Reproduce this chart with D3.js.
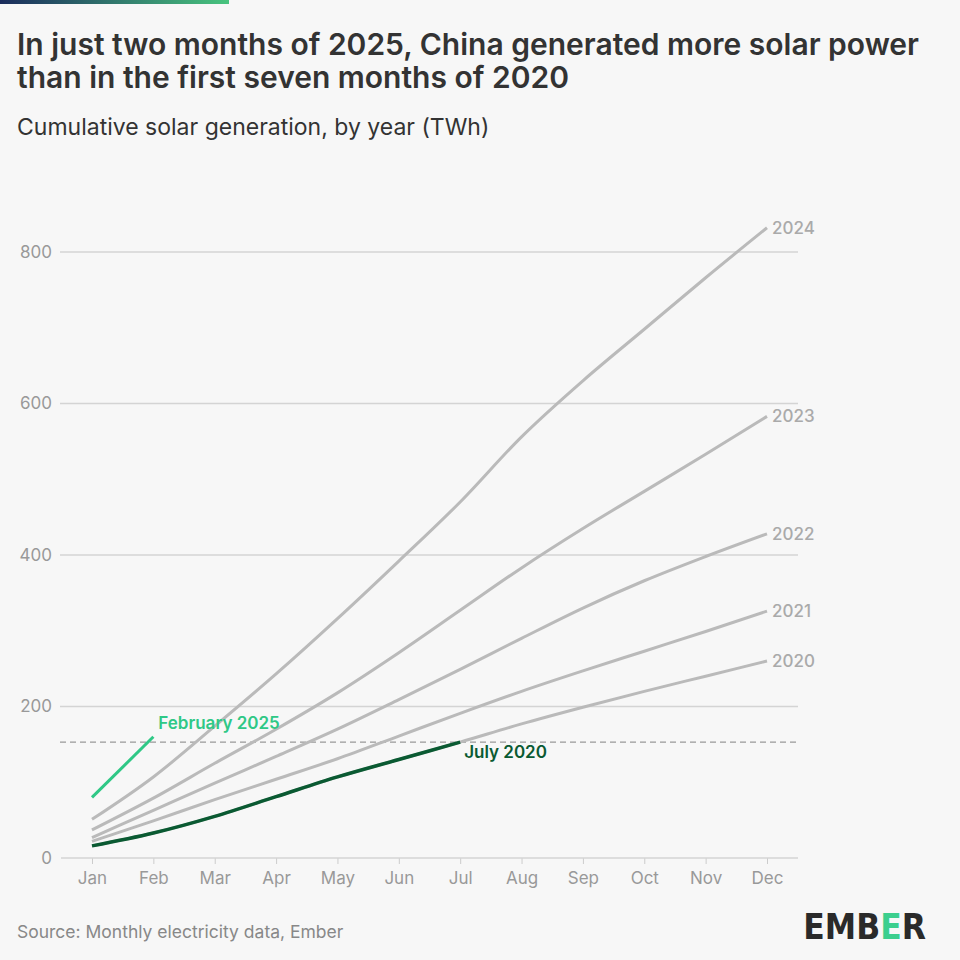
<!DOCTYPE html>
<html>
<head>
<meta charset="utf-8">
<script src="https://cdn.jsdelivr.net/npm/d3@7"></script>
<style>
  body { margin: 0; background: #f7f7f7; }
  svg { display: block; font-family: Inter, "Noto Sans", sans-serif; }
</style>
</head>
<body>
<svg id="chart" width="960" height="960"></svg>
<script>
// data (TWh, cumulative)
var months = ["Jan","Feb","Mar","Apr","May","Jun","Jul","Aug","Sep","Oct","Nov","Dec"];
var y2020 = [16, 33, 55, 81, 107, 130, 153, 177, 199, 220, 240, 260];
var y2021 = [22, 49, 77, 104, 131, 161, 191, 220, 247, 273, 299, 326];
var y2022 = [27, 63, 99, 134, 170, 209, 249, 290, 330, 366, 398, 428];
var y2023 = [37, 79, 125, 170, 218, 271, 327, 383, 435, 484, 533, 583];
var y2024 = [51, 107, 174, 243, 316, 392, 470, 556, 630, 698, 766, 832];
var y2025 = [80, 160];
var yTicks = [0, 200, 400, 600, 800];
var july2020 = 153;

var svg = d3.select("#chart");

// top gradient bar
var grad = svg.append("defs").append("linearGradient").attr("id", "topbar");
grad.append("stop").attr("offset", "0%").attr("stop-color", "#1b2c5c");
grad.append("stop").attr("offset", "100%").attr("stop-color", "#48c47e");
svg.append("rect").attr("x", 0).attr("y", 0).attr("width", 229).attr("height", 4).attr("fill", "url(#topbar)");

svg.append("text").attr("x", 17).attr("y", 55)
  .attr("font-size", 30).attr("font-weight", 600).attr("fill", "#333")
  .text("In just two months of 2025, China generated more solar power");
svg.append("text").attr("x", 17).attr("y", 88)
  .attr("font-size", 30).attr("font-weight", 600).attr("fill", "#333")
  .text("than in the first seven months of 2020");
svg.append("text").attr("x", 17).attr("y", 135)
  .attr("font-size", 23).attr("fill", "#333")
  .text("Cumulative solar generation, by year (TWh)");

var x = d3.scalePoint().domain(months).range([92, 767]);
var y = d3.scaleLinear().domain([0, 800]).range([858, 252]);

// grid
svg.append("g").selectAll("line").data(yTicks.slice(1)).enter().append("line")
  .attr("x1", 60).attr("x2", 798)
  .attr("y1", function(d) { return y(d); }).attr("y2", function(d) { return y(d); })
  .attr("stroke", "#d4d4d4").attr("stroke-width", 1.3);

svg.append("g").selectAll("text").data(yTicks).enter().append("text")
  .attr("x", 52).attr("y", function(d) { return y(d); }).attr("dy", "0.35em")
  .attr("text-anchor", "end").attr("font-size", 17).attr("fill", "#999")
  .text(function(d) { return d; });

// x axis
var xAxis = svg.append("g").attr("transform", "translate(0,858)")
  .call(d3.axisBottom(x).tickSize(6).tickPadding(8));
xAxis.select(".domain").remove();
xAxis.selectAll(".tick line").attr("stroke", "#ccc");
xAxis.selectAll(".tick text").attr("font-size", 17).attr("fill", "#999").attr("font-family", "Inter, sans-serif");
svg.append("line").attr("x1", 61).attr("x2", 798).attr("y1", 858).attr("y2", 858)
  .attr("stroke", "#d4d4d4").attr("stroke-width", 1.5);

// dashed reference
svg.append("line").attr("x1", 60).attr("x2", 798)
  .attr("y1", y(july2020)).attr("y2", y(july2020))
  .attr("stroke", "#999").attr("stroke-width", 1.3).attr("stroke-dasharray", "6,4");

var line = d3.line()
  .x(function(d, i) { return x(months[i]); })
  .y(function(d) { return y(d); })
  .curve(d3.curveMonotoneX);

var greyYears = [["2020", y2020], ["2021", y2021], ["2022", y2022], ["2023", y2023], ["2024", y2024]];
svg.append("g").selectAll("path").data(greyYears).enter().append("path")
  .attr("d", function(d) { return line(d[1]); })
  .attr("fill", "none").attr("stroke", "#bababa").attr("stroke-width", 3);

svg.append("g").selectAll("text").data(greyYears).enter().append("text")
  .attr("x", x("Dec") + 5).attr("y", function(d) { return y(d[1][11]); }).attr("dy", "0.35em")
  .attr("font-size", 17).attr("font-weight", 500).attr("fill", "#aaa")
  .text(function(d) { return d[0]; });

// 2020 to July, dark green
svg.append("path").attr("d", line(y2020.slice(0, 7)))
  .attr("fill", "none").attr("stroke", "#0a5a32").attr("stroke-width", 3.5);
svg.append("path").attr("d", line(y2025))
  .attr("fill", "none").attr("stroke", "#2fc886").attr("stroke-width", 3);

svg.append("text").attr("x", x("Feb") + 5).attr("y", y(y2025[1]) - 8)
  .attr("font-size", 17).attr("font-weight", 600).attr("fill", "#2fc886")
  .text("February 2025");
svg.append("text").attr("x", x("Jul") + 4).attr("y", y(july2020) + 16)
  .attr("font-size", 17).attr("font-weight", 600).attr("fill", "#0a5a32")
  .text("July 2020");

svg.append("text").attr("x", 17).attr("y", 938)
  .attr("font-size", 17.5).attr("fill", "#888")
  .text("Source: Monthly electricity data, Ember");

var logo = svg.append("text").attr("x", 926).attr("y", 939).attr("text-anchor", "end")
  .attr("font-size", 35).attr("font-weight", 800).attr("fill", "#2a2a2a")
  .attr("font-family", "'DejaVu Sans Condensed', 'Liberation Sans Narrow', sans-serif");
logo.append("tspan").text("EMB");
logo.append("tspan").attr("fill", "#3ccf8e").text("E");
logo.append("tspan").text("R");
</script>
</body>
</html>
